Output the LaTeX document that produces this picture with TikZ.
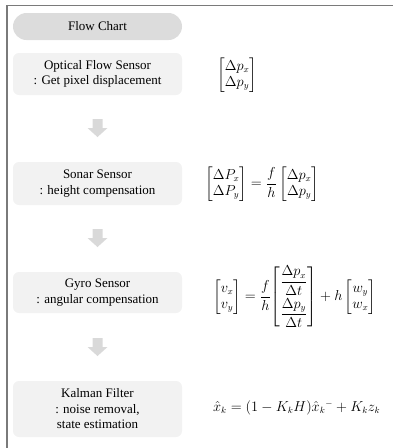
\documentclass[tikz,border=0pt]{standalone}
\usepackage{amsmath}
\usepackage{fontspec}
\setmainfont{Liberation Serif}
\definecolor{boxfill}{HTML}{F2F2F2}
\definecolor{pillfill}{HTML}{DCDCDC}
\definecolor{arrowfill}{HTML}{D9D9D9}
\definecolor{framecol}{HTML}{7A7A7A}
\begin{document}
\begin{tikzpicture}[x=1pt,y=-1pt,
  stepbox/.style={fill=boxfill, rounded corners=6pt, minimum width=169pt, align=center, font=\fontsize{13}{15.5}\selectfont, inner sep=0pt},
  pill/.style={fill=pillfill, rounded corners=13.5pt, minimum width=169pt, minimum height=27pt, font=\fontsize{13}{15.5}\selectfont, inner sep=0pt},
  eq/.style={font=\fontsize{13.5}{16}\selectfont, inner sep=0pt},
  blockarrow/.style={fill=arrowfill, draw=none}]
\useasboundingbox (0,0) rectangle (393,448);
\draw[framecol, line width=1.3pt] (7,448) -- (7,5.5) -- (393,5.5);

\node[pill] (title) at (97.5,26.5) {Flow Chart};
\node[stepbox, minimum height=42pt] (optical) at (97.5,74) {Optical Flow Sensor\\: Get pixel displacement};
\node[stepbox, minimum height=43pt] (sonar) at (97.5,183.5) {Sonar Sensor\\: height compensation};
\node[stepbox, minimum height=41pt] (gyro) at (97.5,292.5) {Gyro Sensor\\: angular compensation};
\node[stepbox, minimum height=56pt] (kalman) at (97.5,409) {Kalman Filter\\: noise removal,\\state estimation};

\foreach \y in {119,229,338}{
  \fill[blockarrow] (92.5,\y) -- (102.5,\y) -- (102.5,\y+9) -- (107.5,\y+9) -- (97.5,\y+18) -- (87.5,\y+9) -- (92.5,\y+9) -- cycle;
}

\node[eq, anchor=west] (eqopt) at (217,75) {$\begin{bmatrix}\Delta p_x\\ \Delta p_y\end{bmatrix}$};
\node[eq, anchor=west] (eqsonar) at (205,184) {$\begin{bmatrix}\Delta P_x\\ \Delta P_y\end{bmatrix} = \dfrac{f}{h}\begin{bmatrix}\Delta p_x\\ \Delta p_y\end{bmatrix}$};
\node[eq, anchor=west] (eqgyro) at (213,297) {$\begin{bmatrix}v_x\\ v_y\end{bmatrix} = \dfrac{f}{h}\!\begin{bmatrix}\dfrac{\Delta p_x}{\Delta t}\\[8pt] \dfrac{\Delta p_y}{\Delta t}\end{bmatrix} + h\begin{bmatrix}w_y\\ w_x\end{bmatrix}$};
\node[eq, anchor=west] (eqkal) at (213,408) {$\hat{x}_k = (1 - K_k H)\hat{x}_k{}^{-} + K_k z_k$};
\end{tikzpicture}
\end{document}
